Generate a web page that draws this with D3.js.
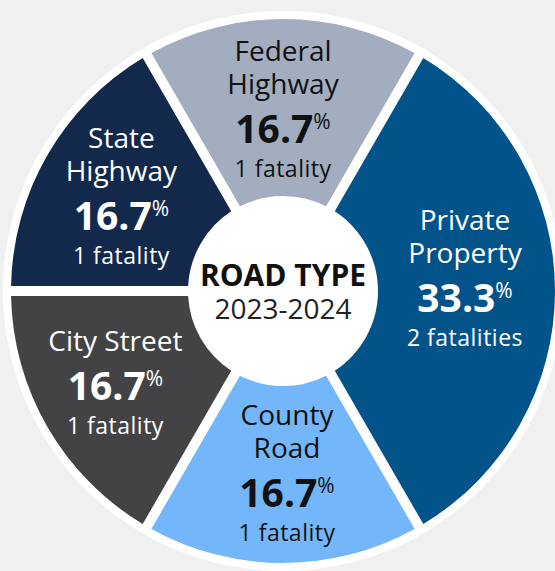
<!DOCTYPE html>
<html lang="en">

<head>
  <meta charset="UTF-8">
  <title>Road Type 2023-2024</title>
  <script src="https://d3js.org/d3.v7.min.js"></script>
  <style>
    body {
      margin: 0;
      background: #f0f0f0;
      font-family: "Open Sans", sans-serif;
    }

    .name {
      font-size: 28px;
    }

    .pct {
      font-size: 39px;
      font-weight: bold;
    }

    .count {
      font-size: 23px;
      letter-spacing: 0.5px;
    }
  </style>
</head>

<body>
  <div id="chart"></div>

  <script>
    // Data, clockwise from the top
    const roadTypes = ["Federal Highway", "Private Property", "County Road", "City Street", "State Highway"];
    const nameLines = [["Federal", "Highway"], ["Private", "Property"], ["County", "Road"], ["City Street"], ["State", "Highway"]];
    const fatalities = [1, 2, 1, 1, 1];
    const percentLabels = ["16.7", "33.3", "16.7", "16.7", "16.7"];
    const fatalityLabels = ["1 fatality", "2 fatalities", "1 fatality", "1 fatality", "1 fatality"];
    const sliceColors = ["#a2aec0", "#02538a", "#74b6fa", "#434345", "#13294b"];
    const textColors = ["#111", "#fff", "#111", "#fff", "#fff"];

    const width = 555;
    const height = 571;
    const cx = 283, cy = 291;
    const outerR = 272, innerR = 95, labelR = 182;

    // small hand tweaks so the text blocks sit where the original has them
    const labelNudge = {
      "Private Property": [0, -13],
      "City Street": [-10, 0],
      "State Highway": [-4, -4],
      "County Road": [4, 0]
    };

    const svg = d3.select("#chart").append("svg")
      .attr("width", width)
      .attr("height", height);

    const g = svg.append("g")
      .attr("transform", `translate(${cx},${cy})`);

    // white backing disc
    g.append("circle")
      .attr("r", 280)
      .attr("fill", "#fff");

    const data = roadTypes.map((name, i) => ({
      name, value: fatalities[i], lines: nameLines[i], pct: percentLabels[i],
      count: fatalityLabels[i], color: sliceColors[i], text: textColors[i]
    }));

    const pie = d3.pie()
      .value(d => d.value)
      .sort(null)
      .startAngle(-Math.PI / 6)
      .endAngle(2 * Math.PI - Math.PI / 6);

    const arc = d3.arc()
      .innerRadius(innerR)
      .outerRadius(outerR)
      .padAngle(0.1)
      .padRadius(100);

    const labelArc = d3.arc()
      .innerRadius(labelR)
      .outerRadius(labelR);

    const arcs = pie(data);

    g.selectAll(".slice")
      .data(arcs)
      .enter().append("path")
      .attr("class", "slice")
      .attr("d", arc)
      .attr("fill", d => d.data.color);

    const labels = g.selectAll(".label")
      .data(arcs)
      .enter().append("g")
      .attr("class", "label")
      .attr("transform", d => {
        const [x, y] = labelArc.centroid(d);
        const [nx, ny] = labelNudge[d.data.name] || [0, 0];
        return `translate(${x + nx},${y + ny})`;
      })
      .attr("fill", d => d.data.text)
      .attr("text-anchor", "middle");

    labels.each(function (d) {
      const sel = d3.select(this);
      const n = d.data.lines.length;
      let y = n === 2 ? -48 : -31;
      d.data.lines.forEach(line => {
        sel.append("text").attr("class", "name").attr("y", y).text(line);
        y += 33;
      });
      y += 16;
      const pct = sel.append("text").attr("class", "pct").attr("y", y);
      pct.append("tspan").text(d.data.pct);
      pct.append("tspan")
        .attr("font-size", 21)
        .attr("font-weight", "normal")
        .attr("dy", -14)
        .text("%");
      y += 34;
      sel.append("text").attr("class", "count").attr("y", y).text(d.data.count);
    });

    // centre title
    g.append("text")
      .attr("text-anchor", "middle")
      .attr("y", -5)
      .attr("font-size", 30)
      .attr("font-weight", "bold")
      .attr("fill", "#111")
      .text("ROAD TYPE");

    g.append("text")
      .attr("text-anchor", "middle")
      .attr("y", 28)
      .attr("font-size", 28)
      .attr("fill", "#222")
      .text("2023-2024");
  </script>
</body>

</html>
